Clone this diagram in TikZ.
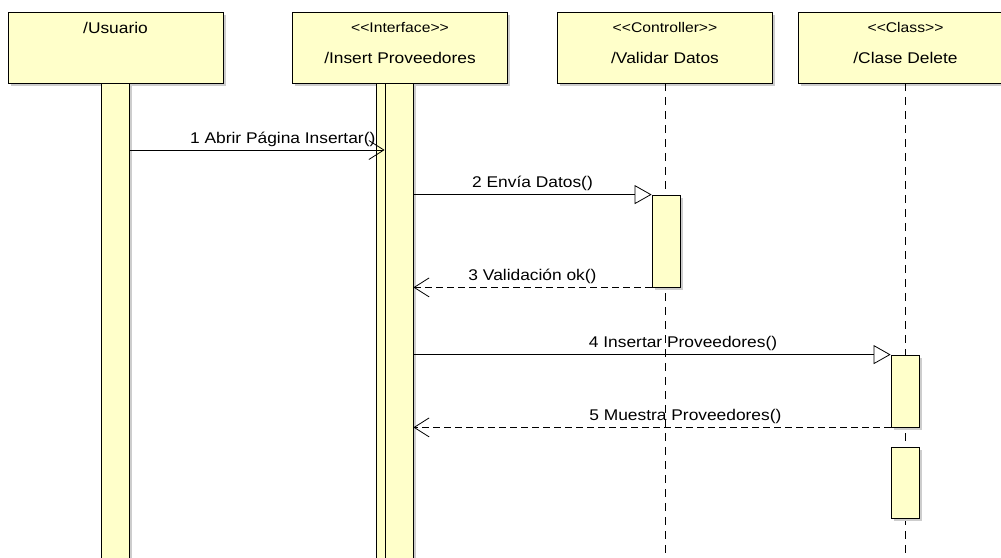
\documentclass[tikz,border=0pt]{standalone}
\usepackage{fontspec}
\setmainfont[FakeStretch=1.12]{Liberation Sans}
\usetikzlibrary{
  arrows.meta, % for the open and triangle heads
  positioning,
}

\definecolor{lifefill}{RGB}{255,255,202}
\definecolor{shadowgray}{RGB}{205,205,205}

\newcommand{\stereo}[1]{<\kern0pt<#1>\kern0pt>}

\tikzset{
  shadowed/.style={preaction={fill=shadowgray, transform canvas={shift={(2.5pt,-2.5pt)}}}},
  objbox/.style={draw, line width=0.8pt, fill=lifefill, shadowed,
    minimum width=215pt, minimum height=71pt, inner sep=0pt},
  actbar/.style={draw, line width=0.8pt, fill=lifefill, shadowed,
    minimum width=28pt, inner sep=0pt},
  headtext/.style={inner sep=0pt, font=\fontsize{15.5}{18}\selectfont},
  stereotext/.style={inner sep=0pt, font=\fontsize{14}{16}\selectfont},
  lifeline/.style={line width=0.8pt, dash pattern=on 8pt off 6pt},
  call/.style={line width=0.8pt, -{Triangle[open, length=17pt, width=19pt]}},
  calltop/.style={line width=0.8pt, -{Straight Barb[length=15pt, width=19pt]}},
  reply/.style={line width=0.8pt, dash pattern=on 7pt off 4pt,
    -{Straight Barb[length=15pt, width=19pt]}},
  msglabel/.style={above, inner sep=3pt, font=\fontsize{15.5}{18}\selectfont},
}

\begin{document}
\begin{tikzpicture}[x=1pt, y=-1pt]
  \useasboundingbox (0,0) rectangle (1001,557);
  \coordinate (bottom) at (0,562);

  % heads
  \node [objbox] (usrbox) at (115.5,47.5) {};
  \node [objbox] (intbox) at (400,47.5) {};
  \node [objbox] (ctrlbox) at (665,47.5) {};
  \node [objbox] (clsbox) at (905.5,47.5) {};

  \node [headtext, below = 10pt of usrbox.north] (usrname) {/Usuario};
  \node [stereotext, below = 10.5pt of intbox.north] (intstereo) {\stereo{Interface}};
  \node [headtext, below = 19pt of intstereo] (intname) {/Insert Proveedores};
  \node [stereotext, below = 10.5pt of ctrlbox.north] (ctrlstereo) {\stereo{Controller}};
  \node [headtext, below = 19pt of ctrlstereo] (ctrlname) {/Validar Datos};
  \node [stereotext, below = 10.5pt of clsbox.north] (clsstereo) {\stereo{Class}};
  \node [headtext, below = 19pt of clsstereo] (clsname) {/Clase Delete};

  % lifelines
  \draw [lifeline] (ctrlbox.south) -- (ctrlbox.south |- bottom);
  \draw [lifeline] (clsbox.south) -- (clsbox.south |- bottom);

  % activations
  \node [actbar, anchor=north, minimum height=479pt] (usrbar) at (usrbox.south) {};
  \node [actbar, anchor=north, minimum height=479pt] (intbarA) at ([xshift=-10pt]intbox.south) {};
  \node [actbar, anchor=north, minimum height=479pt] (intbarB) at ([xshift=-1pt]intbox.south) {};
  \node [actbar, minimum height=92pt] (ctrlbar) at (666,241) {};
  \node [actbar, minimum height=72pt] (clsbarA) at (905,391) {};
  \node [actbar, minimum height=71pt] (clsbarB) at (905,482.5) {};

  % messages
  \coordinate (m1) at (0,150);
  \draw [calltop] (usrbar.east |- m1) to node[msglabel, pos=0.6] {1 Abrir Página Insertar()} (intbarB.west |- m1);
  \draw [call] (intbarB.east |- ctrlbar.north) to node[msglabel] {2 Envía Datos()} (ctrlbar.north west);
  \draw [reply] (ctrlbar.south west) to node[msglabel] {3 Validación ok()} (intbarB.east |- ctrlbar.south);
  \draw [call] (intbarB.east |- clsbarA.north) to node[msglabel, pos=0.565] {4 Insertar Proveedores()} (clsbarA.north west);
  \draw [reply] (clsbarA.south west) to node[msglabel, pos=0.43] {5 Muestra Proveedores()} (intbarB.east |- clsbarA.south);
\end{tikzpicture}
\end{document}
